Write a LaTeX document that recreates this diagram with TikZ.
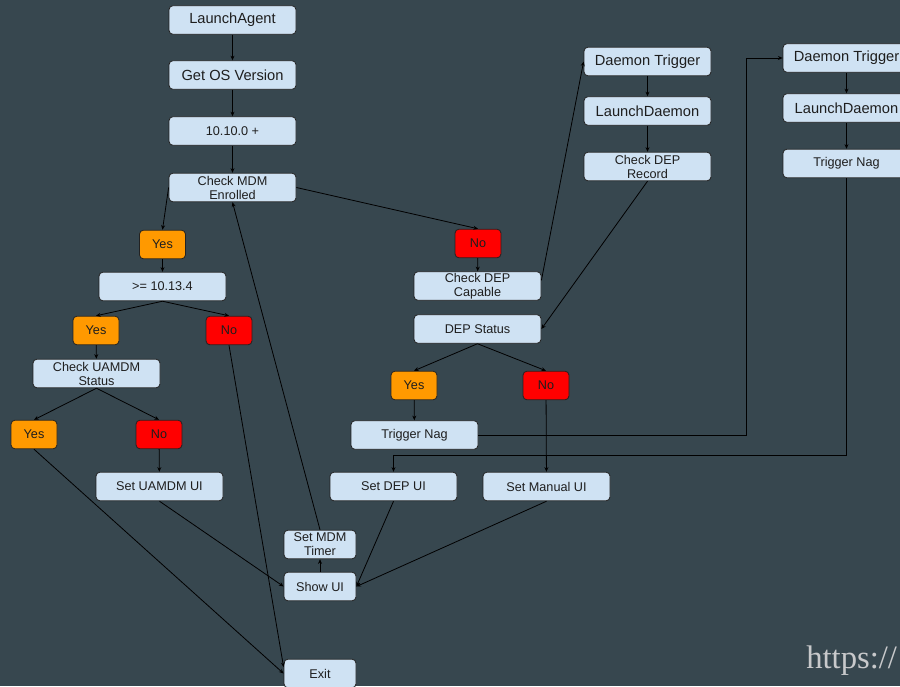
\documentclass[tikz,border=0pt]{standalone}
\usepackage{fontspec}
\setmainfont{Liberation Sans}
\newfontfamily\markfont{Liberation Serif}
\usetikzlibrary{arrows.meta,calc}
\definecolor{bg}{RGB}{55,71,79}
\definecolor{boxblue}{RGB}{207,226,243}
\definecolor{yesorange}{RGB}{255,153,0}
\definecolor{nored}{RGB}{255,0,0}
\definecolor{edge}{RGB}{34,34,34}
\definecolor{ink}{RGB}{30,30,30}
\definecolor{wm}{RGB}{200,201,203}

\begin{document}
\begin{tikzpicture}[x=0.75pt,y=-0.75pt,
  box/.style={draw=edge, line width=0.6pt, rounded corners=3pt, fill=boxblue,
    text=ink, minimum width=95.25pt, minimum height=21.5pt, inner sep=1pt,
    align=center, font=\fontsize{9.5}{10.5}\selectfont},
  bigbox/.style={box, font=\fontsize{11}{12}\selectfont},
  smallbox/.style={box, minimum width=54pt},
  yesbox/.style={box, fill=yesorange, minimum width=34.5pt},
  nobox/.style={box, fill=nored, minimum width=34.5pt},
  link/.style={draw=black, line width=0.6pt, -{Stealth[length=3.5pt,width=3pt]}}]

% canvas
\clip (0,0) rectangle (900,686);
\fill[bg] (0,0) rectangle (900,686);

% main column
\node[bigbox] (la) at (232.5,20) {LaunchAgent};
\node[bigbox] (gos) at (232.5,75) {Get OS Version};
\node[box] (v1010) at (232.5,131) {10.10.0 +};
\node[box] (cmdm) at (232.5,187.5) {Check MDM\\Enrolled};

% enrolled branch
\node[yesbox] (y1) at (162.5,244.5) {Yes};
\node[box] (v1013) at (162.5,286.5) {>= 10.13.4};
\node[yesbox] (y2) at (96,330.5) {Yes};
\node[nobox] (n2) at (229,330.5) {No};
\node[box] (cua) at (96.5,373.5) {Check UAMDM\\Status};
\node[yesbox] (y3) at (34,434.5) {Yes};
\node[nobox] (n3) at (159,434.5) {No};
\node[box] (sua) at (159.5,486.5) {Set UAMDM UI};

% not enrolled branch
\node[nobox] (n1) at (478,243.5) {No};
\node[box] (cdc) at (477.5,286) {Check DEP\\Capable};
\node[box] (dep) at (477.5,329) {DEP Status};
\node[yesbox] (y4) at (414,385.5) {Yes};
\node[nobox] (n4) at (546,385.5) {No};
\node[box] (tn) at (414.5,435) {Trigger Nag};
\node[box] (sdu) at (393.5,486.5) {Set DEP UI};
\node[box] (smu) at (546.5,486.5) {Set Manual UI};

% UI and exit
\node[smallbox] (smt) at (320,544.5) {Set MDM\\Timer};
\node[smallbox] (sui) at (320,586.5) {Show UI};
\node[smallbox] (exit) at (320,673.5) {Exit};

% daemon chains
\node[bigbox] (dt1) at (647.5,61.5) {Daemon Trigger};
\node[bigbox] (ld1) at (647.5,111) {LaunchDaemon};
\node[box] (cdr) at (647.5,166.5) {Check DEP\\Record};
\node[bigbox] (dt2) at (846.5,58) {Daemon Trigger};
\node[bigbox] (ld2) at (846.5,108) {LaunchDaemon};
\node[box] (tn2) at (846.5,163.5) {Trigger Nag};

% routing helpers
\coordinate (busx) at (746,0);
\coordinate (busy) at (0,455);

% connectors
\draw[link] (la) -- (gos);
\draw[link] (gos) -- (v1010);
\draw[link] (v1010) -- (cmdm);
\draw[link] (cmdm.west) -- (y1.north);
\draw[link] (cmdm.east) -- (n1.north);
\draw[link] (y1) -- (v1013);
\draw[link] (v1013.south) -- (y2.north);
\draw[link] (v1013.south) -- (n2.north);
\draw[link] (y2) -- (cua);
\draw[link] (cua.south) -- (y3.north);
\draw[link] (cua.south) -- (n3.north);
\draw[link] (n3) -- (sua);
\draw[link] (y3.south) -- (exit.west);
\draw[link] (n2.south) -- (exit.170);
\draw[link] (sua.south) -- (sui.west);
\draw[link] (sui) -- (smt);
\draw[link] (smt.north) -- (cmdm.south);
\draw[link] (sdu.south) -- (sui.east);
\draw[link] (smu.south) -- (sui.east);
\draw[link] (n1) -- (cdc);
\draw[link] (cdc.5) -- (dt1.west);
\draw[link] (dt1) -- (ld1);
\draw[link] (ld1) -- (cdr);
\draw[link] (cdr.south) -- (dep.east);
\draw[link] (dep.south) -- (y4.north);
\draw[link] (dep.south) -- (n4.north);
\draw[link] (y4) -- (tn);
\draw[link] (n4) -- (smu);
\draw[link] (tn.east) -| (busx |- dt2.west) -- (dt2.west);
\draw[link] (dt2) -- (ld2);
\draw[link] (ld2) -- (tn2);
\draw[link] (tn2.south) |- (sdu.north |- busy) -- (sdu.north);

% address mark
\node[anchor=base west, text=wm, inner sep=0pt,
  font=\markfont\fontsize{24.5}{26}\selectfont] (url) at (806,668) {https://};
\end{tikzpicture}
\end{document}
